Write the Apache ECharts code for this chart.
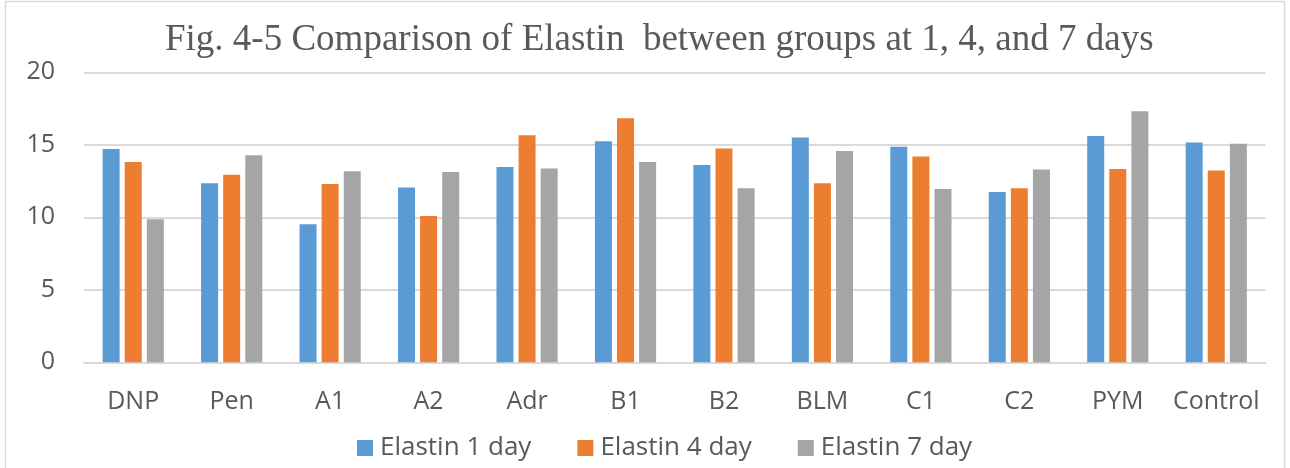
<!DOCTYPE html>
<html>
<head>
<meta charset="utf-8">
<style>
html,body{margin:0;padding:0;background:#fff;}
#chart{width:1290px;height:468px;}
</style>
<script src="https://cdn.jsdelivr.net/npm/echarts@6/dist/echarts.min.js"></script>
</head>
<body>
<div id="chart"></div>
<script>
const titleText = 'Fig. 4-5 Comparison of Elastin  between groups at 1, 4, and 7 days';
const categories = ['DNP','Pen','A1','A2','Adr','B1','B2','BLM','C1','C2','PYM','Control'];
const seriesNames = ['Elastin 1 day','Elastin 4 day','Elastin 7 day'];
const day1 = [14.71, 12.34, 9.52, 12.05, 13.47, 15.24, 13.61, 15.50, 14.87, 11.75, 15.61, 15.15];
const day4 = [13.81, 12.94, 12.30, 10.09, 15.66, 16.83, 14.74, 12.34, 14.19, 12.00, 13.33, 13.22];
const day7 = [9.86, 14.28, 13.17, 13.13, 13.36, 13.81, 12.00, 14.57, 11.95, 13.29, 17.31, 15.08];
const yTicks = {min: 0, max: 20, interval: 5};
const colors = ['#5B9BD5','#ED7D31','#A5A5A5'];

const chart = echarts.init(document.getElementById('chart'), null, {renderer:'canvas'});
const dataSets = [day1, day4, day7];
chart.setOption({
  animation: false,
  color: colors,
  title: {
    text: titleText,
    left: 160,
    top: 17,
    textStyle: {fontFamily: 'Liberation Serif', fontSize: 37, fontWeight: 'normal', color: '#595959'}
  },
  legend: {
    bottom: 2,
    left: 352,
    itemWidth: 16,
    itemHeight: 16,
    itemGap: 46,
    icon: 'rect',
    textStyle: {fontFamily: 'Open Sans', fontSize: 26, color: '#595959', padding: [0,0,0,2]},
    data: seriesNames
  },
  grid: {left: 84, right: 24.5, top: 72.3, bottom: 105.7, containLabel: false},
  xAxis: {
    type: 'category',
    data: categories,
    axisLine: {lineStyle: {color: '#d9d9d9', width: 2}},
    axisTick: {show: false},
    axisLabel: {interval: 0, fontFamily: 'Open Sans', fontSize: 25, color: '#595959', margin: 27}
  },
  yAxis: {
    type: 'value',
    min: yTicks.min, max: yTicks.max, interval: yTicks.interval,
    axisLine: {show: false},
    axisTick: {show: false},
    splitLine: {lineStyle: {color: '#d9d9d9', width: 2}},
    axisLabel: {fontFamily: 'Open Sans', fontSize: 25, color: '#595959', margin: 29}
  },
  series: seriesNames.map((n, i) => ({
    name: n,
    type: 'bar',
    data: dataSets[i],
    barWidth: 17,
    barGap: '30%',
    itemStyle: {color: colors[i]}
  })),
  graphic: [{
    type: 'rect',
    shape: {x: 5.5, y: 1.5, width: 1279, height: 480},
    style: {fill: 'none', stroke: '#d9d9d9', lineWidth: 1.5},
    silent: true
  }]
});
</script>
</body>
</html>
